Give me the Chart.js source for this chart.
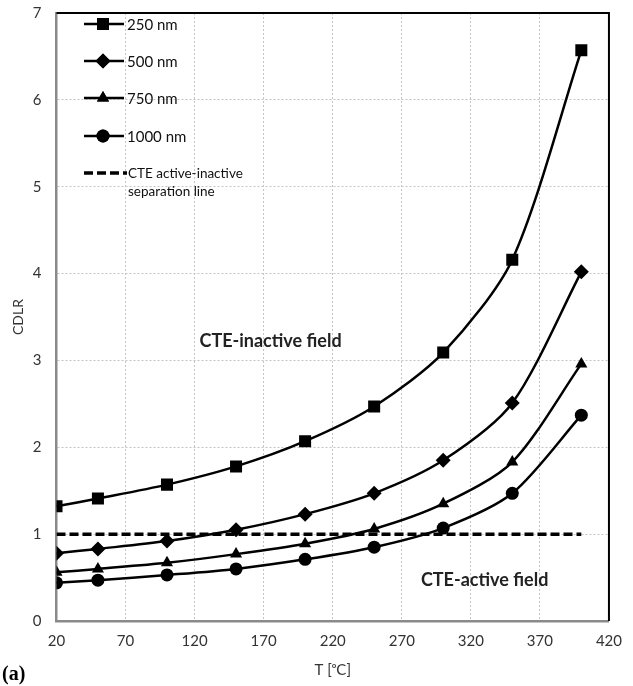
<!DOCTYPE html>
<html>
<head>
<meta charset="utf-8">
<script src="https://cdn.jsdelivr.net/npm/chart.js@4/dist/chart.umd.min.js"></script>
<style>
html,body{margin:0;padding:0;background:#fff;}
#wrap{width:633px;height:686px;position:relative;}
</style>
</head>
<body>
<div id="wrap"><canvas id="c" width="633" height="686"></canvas></div>
<script>
const temps = [20, 50, 100, 150, 200, 250, 300, 350, 400];
const cdlr250 = [1.32, 1.41, 1.57, 1.78, 2.07, 2.47, 3.09, 4.16, 6.57];
const cdlr500 = [0.78, 0.83, 0.92, 1.05, 1.23, 1.47, 1.85, 2.51, 4.02];
const cdlr750 = [0.56, 0.60, 0.67, 0.77, 0.89, 1.06, 1.35, 1.83, 2.96];
const cdlr1000 = [0.44, 0.47, 0.53, 0.60, 0.71, 0.85, 1.07, 1.47, 2.37];
const sepX = [20, 400];
const sepY = [1, 1];
const xTicks = [20, 70, 120, 170, 220, 270, 320, 370, 420];
const yTicks = [0, 1, 2, 3, 4, 5, 6, 7];
const seriesNames = ['250 nm', '500 nm', '750 nm', '1000 nm'];
const sepName = ['CTE active-inactive', 'separation line'];

const FONT = 'Lato, "Open Sans", sans-serif';
const toPts = (xs, ys) => xs.map((x, i) => ({x: x, y: ys[i]}));

function lineDs(label, ys, style, r) {
  return {
    label: label, data: toPts(temps, ys),
    borderColor: '#000', backgroundColor: '#000', borderWidth: 2.5,
    pointStyle: style, pointRadius: r, pointBorderWidth: 0,
    tension: 0.28, fill: false
  };
}

const styles = [['rect', 8.5], ['rectRot', 7.5], ['triangle', 7], ['circle', 6.5]];

const overlay = {
  id: 'overlay',
  afterDraw(chart) {
    const ctx = chart.ctx, a = chart.chartArea;
    const xs = chart.scales.x, ys = chart.scales.y;
    ctx.save();
    ctx.setLineDash([]);
    // top and right frame
    ctx.strokeStyle = '#000'; ctx.lineWidth = 2;
    ctx.beginPath();
    ctx.moveTo(a.left, a.top); ctx.lineTo(a.right, a.top); ctx.lineTo(a.right, a.bottom);
    ctx.stroke();
    // legend
    const rows = [24, 61, 98, 136];
    ctx.font = '15px ' + FONT; ctx.fillStyle = '#111'; ctx.textBaseline = 'middle';
    rows.forEach((yy, i) => {
      ctx.strokeStyle = '#000'; ctx.lineWidth = 2.5; ctx.setLineDash([]);
      ctx.beginPath(); ctx.moveTo(84, yy); ctx.lineTo(124, yy); ctx.stroke();
      ctx.fillStyle = '#000';
      Chart.helpers.drawPoint(ctx, {pointStyle: styles[i][0], radius: styles[i][1], rotation: 0, borderWidth: 0}, 103, yy);
      ctx.fill();
      ctx.fillStyle = '#111';
      ctx.fillText(seriesNames[i], 127, yy + 1);
    });
    ctx.strokeStyle = '#000'; ctx.lineWidth = 3.5; ctx.setLineDash([9, 4]);
    ctx.beginPath(); ctx.moveTo(84, 173); ctx.lineTo(127, 173); ctx.stroke();
    ctx.setLineDash([]);
    ctx.font = '13.5px ' + FONT;
    ctx.fillText(sepName[0], 128, 174);
    ctx.fillText(sepName[1], 128, 192);
    // field labels
    ctx.font = 'bold 18px ' + FONT; ctx.textAlign = 'center'; ctx.fillStyle = '#222';
    ctx.fillText('CTE-inactive field', xs.getPixelForValue(175), ys.getPixelForValue(3.22));
    ctx.fillText('CTE-active field', xs.getPixelForValue(330), ys.getPixelForValue(0.47));
    // panel label
    ctx.textAlign = 'left'; ctx.font = 'bold 20px "Liberation Serif", "DejaVu Serif", serif'; ctx.fillStyle = '#000';
    ctx.fillText('(a)', 2, 675);
    ctx.restore();
  }
};

new Chart(document.getElementById('c'), {
  type: 'line',
  data: {
    datasets: [
      lineDs(seriesNames[0], cdlr250, 'rect', 8.5),
      lineDs(seriesNames[1], cdlr500, 'rectRot', 7.5),
      lineDs(seriesNames[2], cdlr750, 'triangle', 7),
      lineDs(seriesNames[3], cdlr1000, 'circle', 6.5),
      {
        label: 'sep', data: toPts(sepX, sepY), borderColor: '#000', borderWidth: 3.5,
        borderDash: [9, 4], pointRadius: 0, tension: 0, fill: false
      }
    ]
  },
  options: {
    responsive: false, animation: false, devicePixelRatio: 1,
    layout: {padding: {top: 13, right: 13, left: 0, bottom: 0}},
    plugins: {legend: {display: false}, tooltip: {enabled: false}},
    scales: {
      x: {
        type: 'linear', min: 20, max: 420,
        afterBuildTicks: s => { s.ticks = xTicks.map(v => ({value: v})); },
        afterFit: s => { s.height = 65; },
        grid: {color: '#c4c4c4', lineWidth: 1, drawTicks: false},
        border: {color: '#8a8a8a', width: 2.5, dash: [2, 2]},
        ticks: {color: '#333', font: {family: FONT, size: 15}, padding: 11, maxRotation: 0},
        title: {display: true, text: 'T [ᵒC]', color: '#333', font: {family: FONT, size: 15}, padding: {top: 0, bottom: 7}}
      },
      y: {
        type: 'linear', min: 0, max: 7,
        afterBuildTicks: s => { s.ticks = yTicks.map(v => ({value: v})); },
        afterFit: s => { s.width = 56.5; s.paddingTop = 0; s.paddingBottom = 0; },
        grid: {color: '#c4c4c4', lineWidth: 1, drawTicks: false},
        border: {color: '#8a8a8a', width: 2.5, dash: [2, 2]},
        ticks: {color: '#333', font: {family: FONT, size: 15}, padding: 15},
        title: {display: true, text: 'CDLR', color: '#333', font: {family: FONT, size: 14}, padding: {top: 10, bottom: 0}}
      }
    }
  },
  plugins: [overlay]
});
</script>
</body>
</html>
